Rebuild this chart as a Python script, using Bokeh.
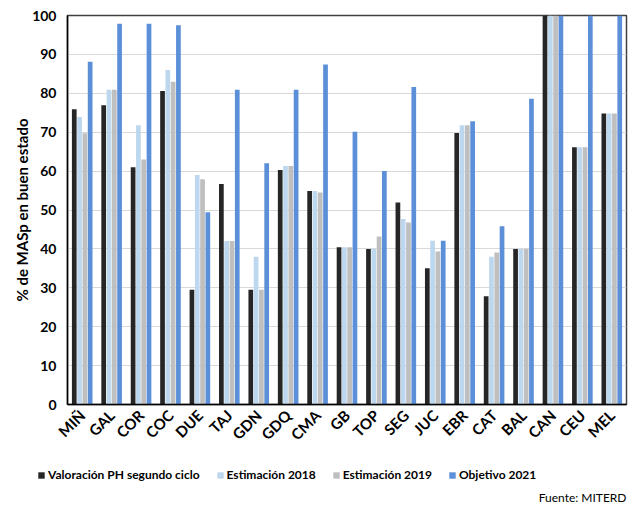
from bokeh.plotting import figure
from bokeh.models import ColumnDataSource, FactorRange, Legend, LegendItem, Label, FixedTicker
from bokeh.layouts import column
from bokeh.transform import dodge
from bokeh.embed import file_html
from bokeh.resources import INLINE
import math

categories = ["MIÑ", "GAL", "COR", "COC", "DUE", "TAJ", "GDN", "GDQ", "CMA", "GB",
              "TOP", "SEG", "JUC", "EBR", "CAT", "BAL", "CAN", "CEU", "MEL"]
valoracion_ph = [75.9, 76.9, 61.0, 80.6, 29.5, 56.7, 29.5, 60.3, 54.9, 40.4,
                 40.0, 51.9, 35.0, 69.8, 27.8, 40.0, 100, 66.1, 74.8]
estimacion_2018 = [73.9, 80.9, 71.8, 86.0, 59.0, 42.0, 38.0, 61.3, 54.9, 40.4,
                   40.0, 47.7, 42.1, 71.8, 38.0, 40.0, 100, 66.1, 74.8]
estimacion_2019 = [69.7, 80.9, 63.0, 83.0, 57.9, 42.0, 29.5, 61.3, 54.5, 40.4,
                   43.2, 46.8, 39.3, 71.8, 39.1, 40.0, 100, 66.1, 74.8]
objetivo_2021 = [88.1, 97.9, 97.9, 97.5, 49.4, 80.9, 62.0, 80.9, 87.4, 70.1,
                 60.0, 81.6, 42.1, 72.8, 45.8, 78.6, 100, 100, 100]
series_names = ["Valoración PH segundo ciclo", "Estimación 2018", "Estimación 2019", "Objetivo 2021"]
y_ticks = [0, 10, 20, 30, 40, 50, 60, 70, 80, 90, 100]
source_note = "Fuente: MITERD"

colors = ["#262626", "#BDD7EE", "#BFBFBF", "#5B8FD8"]
offsets = [-0.27, -0.09, 0.09, 0.27]
FONT = "Lato"

src = ColumnDataSource(dict(cat=categories, s0=valoracion_ph, s1=estimacion_2018,
                            s2=estimacion_2019, s3=objetivo_2021))
keys = ["s0", "s1", "s2", "s3"]

# ---- main chart ----
p = figure(width=633, height=452, x_range=FactorRange(*categories, range_padding=0),
           y_range=(0, 100), output_backend="svg", toolbar_location=None,
           min_border_left=67, min_border_right=7, min_border_top=15, min_border_bottom=48)
p.frame_align = False

for i, key in enumerate(keys):
    p.vbar(x=dodge("cat", offsets[i], range=p.x_range), top=key, width=0.16,
           source=src, fill_color=colors[i], line_color=None)

p.yaxis.ticker = FixedTicker(ticks=y_ticks)
p.yaxis.axis_label = "% de MASp en buen estado"
p.yaxis.axis_label_text_font = FONT
p.yaxis.axis_label_text_font_style = "bold"
p.yaxis.axis_label_text_font_size = "15px"
p.yaxis.axis_label_text_color = "#000000"
p.yaxis.axis_label_standoff = -2
for ax in (p.xaxis, p.yaxis):
    ax.major_label_text_font = FONT
    ax.major_label_text_font_style = "bold"
    ax.major_label_text_color = "#000000"
    ax.axis_line_color = "#000000"
    ax.axis_line_width = 1.5
    ax.major_tick_line_color = None
    ax.minor_tick_line_color = None
p.yaxis.major_label_text_font_size = "14px"
p.xaxis.major_label_text_font_size = "15px"
p.xaxis.major_label_orientation = math.pi / 4
p.xaxis.major_label_standoff = 2

p.xgrid.grid_line_color = None
p.ygrid.grid_line_color = "#D9D9D9"
p.ygrid.grid_line_width = 1
p.ygrid.ticker = FixedTicker(ticks=y_ticks)
p.outline_line_color = "#404040"
p.outline_line_width = 1.5

# ---- legend / source strip ----
q = figure(width=633, height=55, x_range=(0, 1), y_range=(0, 1),
           output_backend="svg", toolbar_location=None,
           x_axis_type=None, y_axis_type=None,
           min_border_left=0, min_border_right=0, min_border_top=0, min_border_bottom=0)
q.frame_align = False
q.outline_line_color = None
q.grid.visible = False

# legend proxies: same series, plotted off-range in this strip (only their legend swatches show)
proxies = [q.vbar(x=key, top=key, width=0.01, source=src, fill_color=c, line_color=None)
           for key, c in zip(keys, colors)]

legend = Legend(items=[LegendItem(label=n, renderers=[r]) for n, r in zip(series_names, proxies)],
                orientation="horizontal", location=(37, 25),
                label_text_font=FONT, label_text_font_style="bold", label_text_font_size="12px",
                label_text_color="#000000",
                glyph_width=8, glyph_height=8, label_standoff=3, spacing=16,
                padding=0, margin=0, border_line_color=None, background_fill_alpha=0,
                label_height=14)
q.add_layout(legend, "center")

q.add_layout(Label(x=626, y=10, x_units="screen", y_units="screen", text=source_note,
                   text_font=FONT, text_font_size="12px", text_align="right",
                   text_baseline="middle", text_color="#000000"))

open("out.html", "w").write(file_html(column(p, q, spacing=0), INLINE))
